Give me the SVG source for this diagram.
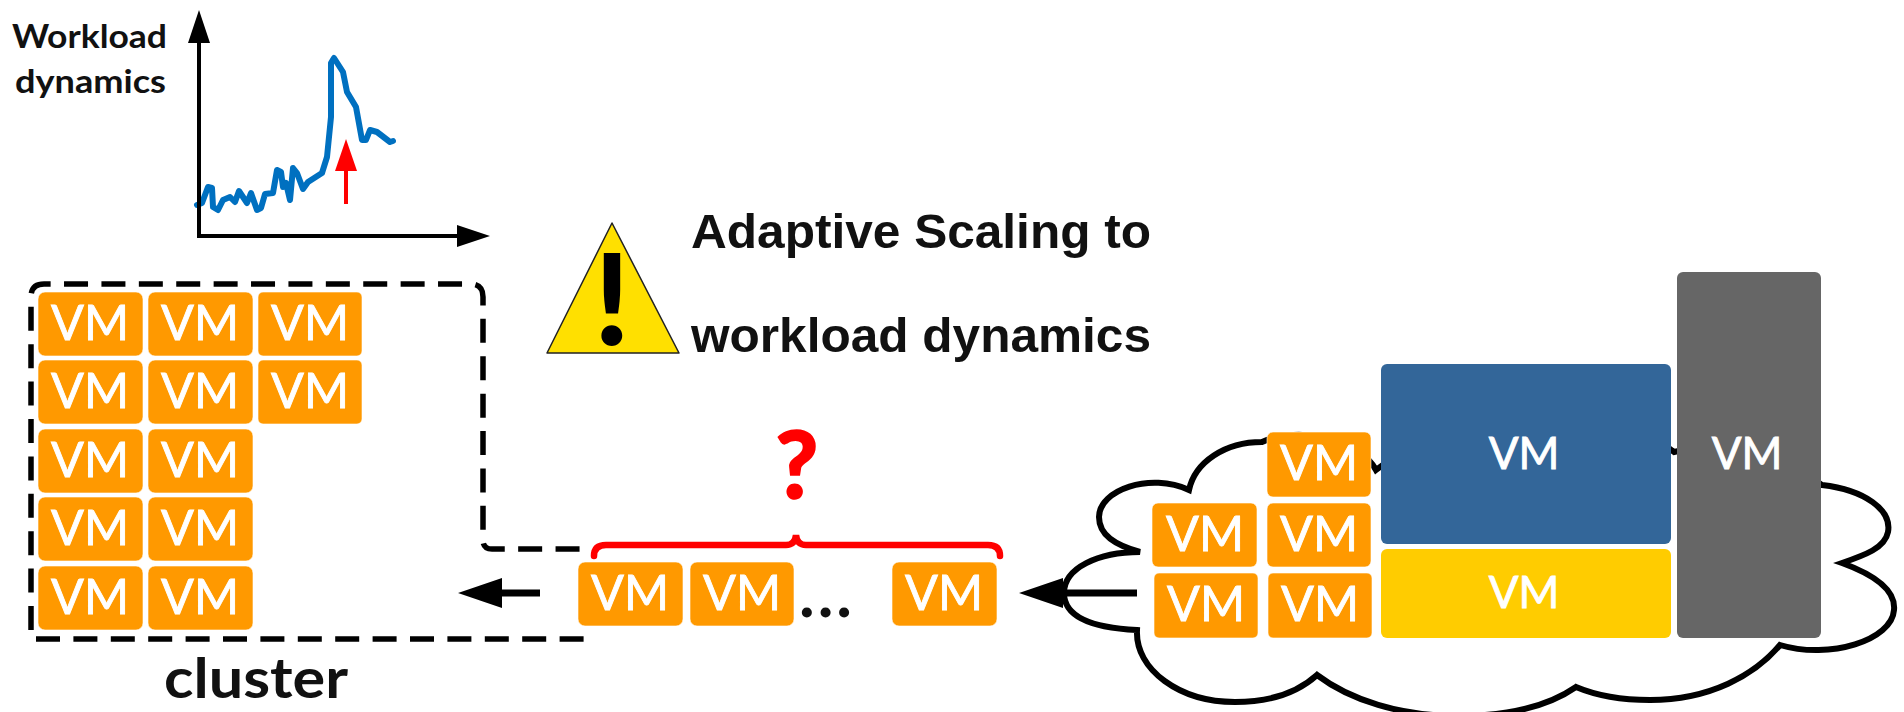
<svg xmlns="http://www.w3.org/2000/svg" width="1904" height="712" viewBox="0 0 1904 712">
<style>
.vm rect{fill:#FF9900;stroke:#fff;stroke-width:.6}
.vm text,.big text{font-family:Lato,"Noto Sans",sans-serif;fill:#fff;text-anchor:middle;stroke:#fff;stroke-width:.9}
.vm text{font-size:48.5px}
.big text{font-size:44px}
.lab{font-family:Lato,"Noto Sans",sans-serif;font-weight:700;fill:#111}
.ar{font-family:"Liberation Sans",Arial,sans-serif;font-weight:700;font-size:48px;fill:#111}
.line{fill:none;stroke:#000;stroke-linecap:butt}
</style>
<defs>
<marker id="axis" markerUnits="userSpaceOnUse" markerWidth="33" markerHeight="24" refX="1" refY="12" orient="auto"><path d="M0 1L33 12L0 23Z" fill="#000"/></marker>
<marker id="flow" markerUnits="userSpaceOnUse" markerWidth="44" markerHeight="32" refX="1" refY="16" orient="auto"><path d="M0 1L44 16L0 31Z" fill="#000"/></marker>
<marker id="red" markerUnits="userSpaceOnUse" markerWidth="32" markerHeight="24" refX="1" refY="12" orient="auto"><path d="M0 1L32 12L0 23Z" fill="#FF0000"/></marker>
</defs>

<g id="chart">
<text class="lab" x="12" y="48" font-size="33" textLength="155" lengthAdjust="spacingAndGlyphs">Workload</text>
<text class="lab" x="15" y="93" font-size="33" textLength="151" lengthAdjust="spacingAndGlyphs">dynamics</text>
<polyline points="197,205 202,203 208,187 212,188 213,207 218,210 223,200 230,197 235,202 239,191 247,203 251,193 257,210 261,208 265,194 273,193 277,170 281,172 283,187 286,183 290,200 293,168 297,173 303,189 308,182 322,173 327,157 331,117 331,63 334,58 343,72 347,92 356,107 362,140 366,140 370,130 377,132 390,142 393,141" fill="none" stroke="#0070C0" stroke-width="6" stroke-linejoin="round" stroke-linecap="round"/>
</g>

<g id="warning">
<polygon points="612,223 679,353 547,353" fill="#FFE000" stroke="#222" stroke-width="1.5" stroke-linejoin="round"/>
<text x="612" y="344" font-family="Lato,Liberation Sans,sans-serif" font-weight="700" font-size="124" text-anchor="middle" fill="#000" stroke="#000" stroke-width="2">!</text>
</g>
<g id="title">
<text class="ar" x="691" y="248" textLength="460" lengthAdjust="spacingAndGlyphs">Adaptive Scaling to</text>
<text class="ar" x="691" y="352" textLength="460" lengthAdjust="spacingAndGlyphs">workload dynamics</text>
</g>

<g id="cloud">
<path class="line" stroke-width="6" stroke-linejoin="miter" d="M1137 630C1095 628 1064 618 1064 593C1064 568 1098 552 1140 552C1115 545 1099 535 1099 517C1099 490 1150 472 1189 490C1195 462 1225 442 1262 442C1300 425 1360 440 1376 470C1440 420 1620 410 1674 452C1720 440 1790 460 1822 485C1865 490 1892 510 1888 532C1885 548 1865 555 1842 563C1875 575 1896 590 1894 610C1892 640 1830 660 1780 645C1755 675 1710 700 1650 700C1620 700 1595 695 1576 687C1550 705 1510 716 1458 716C1400 716 1350 700 1317 675C1295 695 1265 702 1235 702C1180 702 1135 670 1137 630Z"/>
</g>

<g id="connectors">
<path class="line" stroke-width="4" d="M199 238V42" marker-end="url(#axis)"/>
<path class="line" stroke-width="4" d="M197 236H458" marker-end="url(#axis)"/>
<path fill="none" stroke="#FF0000" stroke-width="4" d="M346 204V170" marker-end="url(#red)"/>
<path class="line" stroke-width="5.5" stroke-dasharray="24 13.4" d="M36 639H584"/>
<path class="line" stroke-width="5.5" stroke-dasharray="24 13.4" d="M31 630V297Q31 284 44 284H470Q483 284 483 297V540Q483 549 492 549H585"/>
<path class="line" stroke-width="7" stroke-linecap="round" d="M540 593H501" marker-end="url(#flow)"/>
<path class="line" stroke-width="7" stroke-linecap="round" d="M1137 593H1062" marker-end="url(#flow)"/>
<path fill="none" stroke="#FF0000" stroke-width="6.5" stroke-linecap="round" d="M594 556Q594 545 606 545H786Q795 545 796 535Q797 545 806 545H988Q1000 545 1000 556"/>
</g>

<g id="cluster-vms">
<g id="vm-c1" class="vm"><rect x="38" y="292" width="105" height="64" rx="7"/><text x="90" y="340">VM</text></g>
<g id="vm-c2" class="vm"><rect x="148" y="292" width="105" height="64" rx="7"/><text x="200" y="340">VM</text></g>
<g id="vm-c3" class="vm"><rect x="258" y="292" width="104" height="64" rx="5"/><text x="310" y="340">VM</text></g>
<g id="vm-c4" class="vm"><rect x="38" y="360" width="105" height="64" rx="7"/><text x="90" y="408">VM</text></g>
<g id="vm-c5" class="vm"><rect x="148" y="360" width="105" height="64" rx="7"/><text x="200" y="408">VM</text></g>
<g id="vm-c6" class="vm"><rect x="258" y="360" width="104" height="64" rx="5"/><text x="310" y="408">VM</text></g>
<g id="vm-c7" class="vm"><rect x="38" y="429" width="105" height="64" rx="7"/><text x="90" y="477">VM</text></g>
<g id="vm-c8" class="vm"><rect x="148" y="429" width="105" height="64" rx="7"/><text x="200" y="477">VM</text></g>
<g id="vm-c9" class="vm"><rect x="38" y="497" width="105" height="64" rx="7"/><text x="90" y="545">VM</text></g>
<g id="vm-c10" class="vm"><rect x="148" y="497" width="105" height="64" rx="7"/><text x="200" y="545">VM</text></g>
<g id="vm-c11" class="vm"><rect x="38" y="566" width="105" height="64" rx="7"/><text x="90" y="614">VM</text></g>
<g id="vm-c12" class="vm"><rect x="148" y="566" width="105" height="64" rx="7"/><text x="200" y="614">VM</text></g>
</g>
<g id="cluster-label"><text class="lab" x="164" y="698" font-size="56" textLength="184" lengthAdjust="spacingAndGlyphs">cluster</text></g>

<g id="queue">
<g id="vm-q1" class="vm"><rect x="578" y="562" width="105" height="64" rx="7"/><text x="630" y="610">VM</text></g>
<g id="vm-q2" class="vm"><rect x="690" y="562" width="104" height="64" rx="7"/><text x="742" y="610">VM</text></g>
<g id="vm-q3" class="vm"><rect x="892" y="562" width="105" height="64" rx="7"/><text x="944" y="610">VM</text></g>
<text x="799" y="617" font-family="Lato,Liberation Sans,sans-serif" font-weight="700" font-size="66" letter-spacing="3" fill="#111">...</text>
<text x="797" y="498" font-family="Lato,Noto Sans,sans-serif" font-weight="700" font-size="92" text-anchor="middle" fill="#FF0000" stroke="#FF0000" stroke-width="2.5">?</text>
</g>

<g id="cloud-vms">
<g id="vm-s1" class="vm"><rect x="1267" y="432" width="104" height="65" rx="6"/><text x="1319" y="480">VM</text></g>
<g id="vm-s2" class="vm"><rect x="1152" y="503" width="105" height="64" rx="6"/><text x="1205" y="551">VM</text></g>
<g id="vm-s3" class="vm"><rect x="1267" y="503" width="104" height="64" rx="6"/><text x="1319" y="551">VM</text></g>
<g id="vm-s4" class="vm"><rect x="1154" y="573" width="104" height="65" rx="5"/><text x="1206" y="621">VM</text></g>
<g id="vm-s5" class="vm"><rect x="1268" y="573" width="104" height="65" rx="5"/><text x="1320" y="621">VM</text></g>
<g id="vm-blue" class="big"><rect x="1381" y="364" width="290" height="180" rx="6" fill="#336699"/><text x="1524" y="469">VM</text></g>
<g id="vm-yellow" class="big"><rect x="1381" y="549" width="290" height="89" rx="6" fill="#FFCC00"/><text x="1524" y="608">VM</text></g>
<g id="vm-gray" class="big"><rect x="1677" y="272" width="144" height="366" rx="6" fill="#666666"/><text x="1747" y="469">VM</text></g>
</g>
</svg>
